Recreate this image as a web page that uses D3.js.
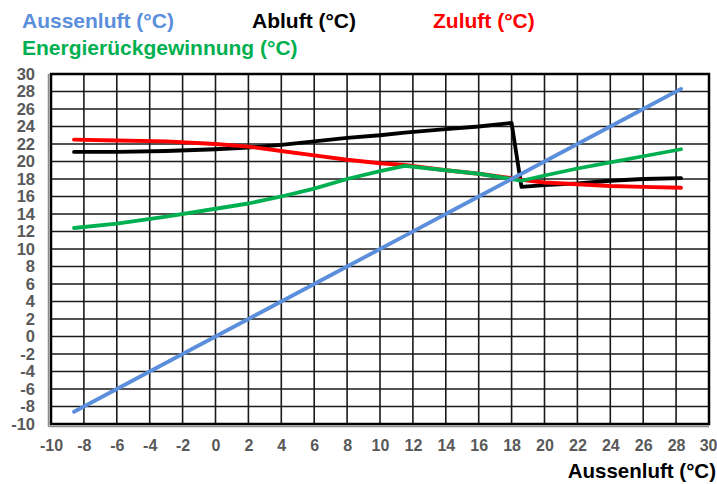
<!DOCTYPE html>
<html>
<head>
<meta charset="utf-8">
<script src="https://cdn.jsdelivr.net/npm/d3@7"></script>
<style>
  html, body { margin: 0; padding: 0; background: #fff; overflow: hidden; }
  svg { display: block; font-family: "Liberation Sans", Arial, sans-serif; font-weight: bold; }
</style>
</head>
<body>
<svg id="chart" width="717" height="484"></svg>
<script>
// Outdoor air temperature (x) at which each state was recorded
const outdoor = [-8.6, -6, -3, 0, 2, 4, 6, 8, 10, 11.5, 14, 16, 18, 18.6, 20, 22, 24, 26, 28.3];

// Series values (°C)
const aussenluft = [-8.6, -6, -3, 0, 2, 4, 6, 8, 10, 11.5, 14, 16, 18, 18.6, 20, 22, 24, 26, 28.3];
const abluft     = [21.1, 21.1, 21.2, 21.4, 21.6, 21.9, 22.3, 22.7, 23.0, 23.3, 23.7, 24.0, 24.4, 17.1, 17.3, 17.5, 17.8, 18.0, 18.1];
const zuluft     = [22.5, 22.4, 22.3, 22.0, 21.7, 21.2, 20.7, 20.2, 19.8, 19.6, 19.0, 18.6, 18.1, 17.9, 17.6, 17.4, 17.2, 17.1, 17.0];
const energie    = [12.4, 12.9, 13.7, 14.6, 15.2, 16.0, 16.9, 18.0, 18.9, 19.5, 19.0, 18.6, 18.0, 17.8, 18.4, 19.2, 19.9, 20.6, 21.4];

const xTicks = d3.range(-10, 31, 2);
const yTicks = d3.range(-10, 31, 2);

const seriesNames = ["Aussenluft (°C)", "Abluft (°C)", "Zuluft (°C)", "Energierückgewinnung (°C)"];
const seriesColors = ["#5B8FDB", "#000000", "#FF0000", "#00B050"];
const xTitle = "Aussenluft (°C)";

const svg = d3.select("#chart");
const plotL = 51, plotR = 709, plotT = 74, plotB = 424;

const x = d3.scaleLinear().domain([-10, 30]).range([plotL, plotR]);
const y = d3.scaleLinear().domain([-10, 30]).range([plotB, plotT]);

// Grid
const grid = svg.append("g");
grid.selectAll("line.v").data(xTicks).join("line")
  .attr("x1", d => x(d)).attr("x2", d => x(d))
  .attr("y1", plotT).attr("y2", plotB)
  .attr("stroke", "#1a1a1a").attr("stroke-width", 1.6);
grid.selectAll("line.h").data(yTicks).join("line")
  .attr("x1", plotL).attr("x2", plotR)
  .attr("y1", d => y(d)).attr("y2", d => y(d))
  .attr("stroke", "#1a1a1a").attr("stroke-width", 1.6);

// Frame with a light shadow on the left and bottom edges
svg.append("line").attr("x1", plotL - 2.5).attr("x2", plotL - 2.5).attr("y1", plotT).attr("y2", plotB + 2.5)
  .attr("stroke", "#8c8c8c").attr("stroke-width", 1.5);
svg.append("line").attr("x1", plotL - 2.5).attr("x2", plotR).attr("y1", plotB + 2.5).attr("y2", plotB + 2.5)
  .attr("stroke", "#8c8c8c").attr("stroke-width", 1.5);
svg.append("rect").attr("x", plotL).attr("y", plotT).attr("width", plotR - plotL).attr("height", plotB - plotT)
  .attr("fill", "none").attr("stroke", "#000").attr("stroke-width", 2.5);

// Axes (labels only, plain hyphen minus)
const plain = d => String(d);
const xAxis = d3.axisBottom(x).tickValues(xTicks).tickFormat(plain).tickSize(0).tickPadding(0);
const gx = svg.append("g").attr("transform", `translate(0,${plotB + 16})`).call(xAxis);
gx.select(".domain").remove();
gx.selectAll("text").attr("fill", "#595959").attr("font-size", 16).attr("font-weight", "bold")
  .attr("font-family", "Liberation Sans, Arial, sans-serif").attr("dy", "0.71em");
// keep the last label inside the page
gx.selectAll("text").filter(d => d === 30).attr("text-anchor", "end").attr("dx", 8);

const yAxis = d3.axisLeft(y).tickValues(yTicks).tickFormat(plain).tickSize(0).tickPadding(0);
const gy = svg.append("g").attr("transform", `translate(${plotL - 16},0)`).call(yAxis);
gy.select(".domain").remove();
gy.selectAll("text").attr("fill", "#595959").attr("font-size", 16.5).attr("font-weight", "bold")
  .attr("font-family", "Liberation Sans, Arial, sans-serif");

// Series lines
const lineGen = vals => d3.line().x((d, i) => x(outdoor[i])).y(d => y(d))(vals);
const drawOrder = [1, 2, 3, 0];
const allSeries = [aussenluft, abluft, zuluft, energie];
drawOrder.forEach(k => {
  svg.append("path").attr("d", lineGen(allSeries[k]))
    .attr("fill", "none").attr("stroke", seriesColors[k]).attr("stroke-width", 3.8)
    .attr("stroke-linejoin", "round").attr("stroke-linecap", "round");
});

// Legend
const legendPos = [[22, 28], [252, 28], [433, 28], [22, 55]];
seriesNames.forEach((name, k) => {
  svg.append("text").attr("x", legendPos[k][0]).attr("y", legendPos[k][1])
    .attr("fill", seriesColors[k]).attr("font-size", 21).text(name);
});

// X-axis title
svg.append("text").attr("x", 716).attr("y", 478).attr("text-anchor", "end")
  .attr("fill", "#000").attr("font-size", 20.5).text(xTitle);
</script>
</body>
</html>
